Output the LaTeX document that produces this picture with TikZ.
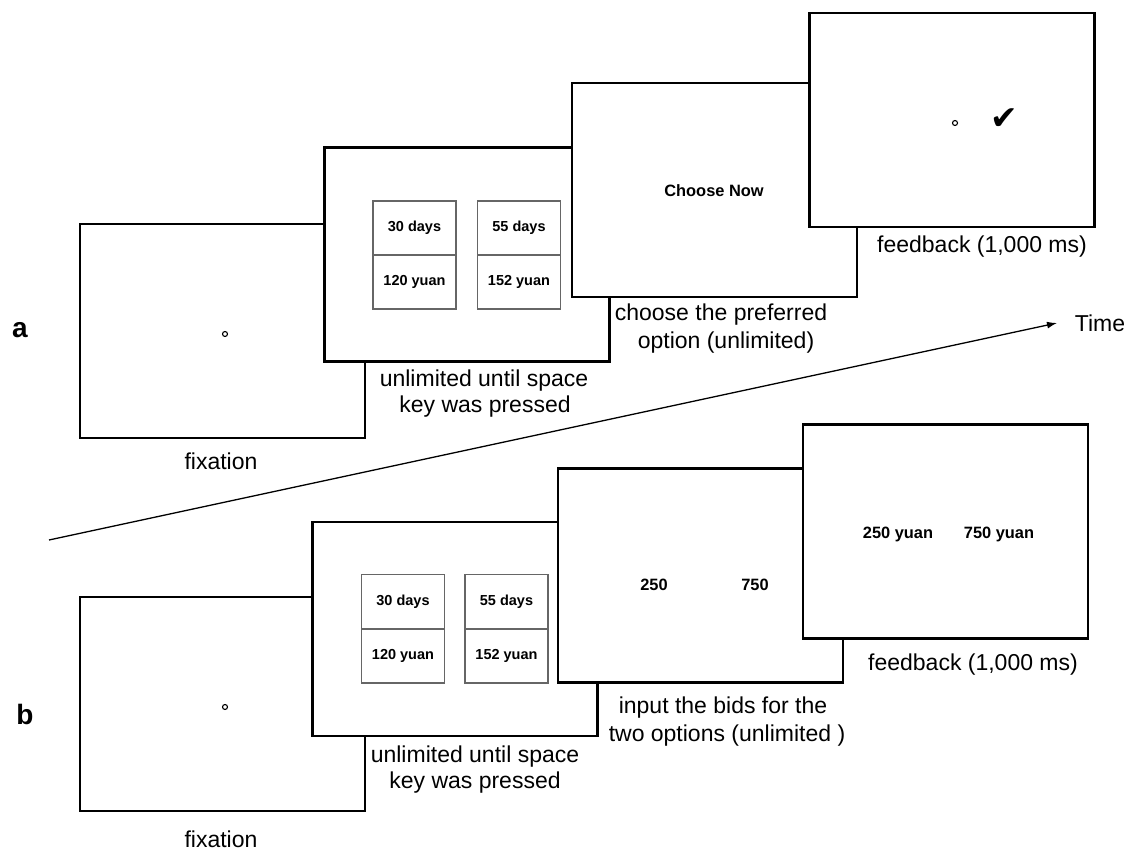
\documentclass[tikz,border=0pt]{standalone}
\usepackage{fontspec}
\setmainfont{Liberation Sans}
\newfontfamily\dejavu{DejaVu Sans}
\usetikzlibrary{arrows.meta}
\tikzset{
  screen/.style={draw=black, fill=white, line width=2.4pt, minimum width=285pt, minimum height=214pt, inner sep=0pt},
  cell/.style={draw=black!60, line width=1.1pt, minimum width=83pt, minimum height=54pt, inner sep=0pt, font=\fontsize{14.5}{17}\selectfont\bfseries},
  inner/.style={inner sep=0pt, font=\fontsize{16.4}{20}\selectfont\bfseries},
  lbl/.style={inner sep=0pt, font=\fontsize{23}{27}\selectfont},
  panel/.style={inner sep=0pt, font=\fontsize{28}{32}\selectfont\bfseries},
  fixdot/.style={circle, draw=black, line width=1.1pt, minimum size=5pt, inner sep=0pt},
  timeline/.style={line width=1.3pt, -{Latex[length=10pt,width=7pt]}}
}
\begin{document}
\begin{tikzpicture}[x=1pt,y=-1pt]
\useasboundingbox (0,0) rectangle (1130,850);

% ---------- panel a ----------
\node[panel] (pa) at (20,330) {a};
\node[screen] (s1a) at (222.5,331) {};
\node[fixdot] (c1a) at (225,334) {};
\node[lbl] (l1a) at (221,461) {fixation};

\node[screen] (s2a) at (467,254.5) {};
\node[cell] (a2l1) at (414.5,228) {30 days};
\node[cell] (a2l2) at (414.5,282) {120 yuan};
\node[cell] (a2r1) at (519,228) {55 days};
\node[cell] (a2r2) at (519,282) {152 yuan};
\node[lbl] (l2a1) at (484,381) {unlimited until space};
\node[lbl] (l2a2) at (485,407) {key was pressed};

\node[screen] (s3a) at (714.5,190) {};
\node[inner] (cn) at (714,191) {Choose Now};
\node[lbl] (l3a1) at (721,315) {choose the preferred};
\node[lbl] (l3a2) at (726,343) {option (unlimited)};

\node[screen] (s4a) at (952,120) {};
\node[fixdot] (c4a) at (955,123) {};
\node[inner sep=0pt, font=\fontsize{33}{36}\selectfont\dejavu] (chk) at (1004,119) {✔};
\node[lbl] (l4a) at (982,247) {feedback (1,000 ms)};

% ---------- time arrow ----------
\coordinate (t0) at (49,540);
\coordinate (t1) at (1057,323);
\draw[timeline] (t0) -- (t1);
\node[lbl] (time) at (1100,323.5) {Time};

% ---------- panel b ----------
\node[panel] (pb) at (25,714) {b};
\node[screen] (s1b) at (222.5,704) {};
\node[fixdot] (c1b) at (225,707) {};
\node[lbl] (l1b) at (221,839) {fixation};

\node[screen] (s2b) at (455,629) {};
\node[cell] (b2l1) at (403,601.5) {30 days};
\node[cell] (b2l2) at (403,656) {120 yuan};
\node[cell] (b2r1) at (506.5,601.5) {55 days};
\node[cell] (b2r2) at (506.5,656) {152 yuan};
\node[lbl] (l2b1) at (475,757) {unlimited until space};
\node[lbl] (l2b2) at (475,783) {key was pressed};

\node[screen] (s3b) at (700.5,575.5) {};
\node[inner] (n250) at (654,585) {250};
\node[inner] (n750) at (755,585) {750};
\node[lbl] (l3b1) at (723,708) {input the bids for the};
\node[lbl] (l3b2) at (727,736) {two options (unlimited )};

\node[screen] (s4b) at (945.5,531.5) {};
\node[inner] (y250) at (898,534) {250 yuan};
\node[inner] (y750) at (999,534) {750 yuan};
\node[lbl] (l4b) at (973,665) {feedback (1,000 ms)};
\end{tikzpicture}
\end{document}
